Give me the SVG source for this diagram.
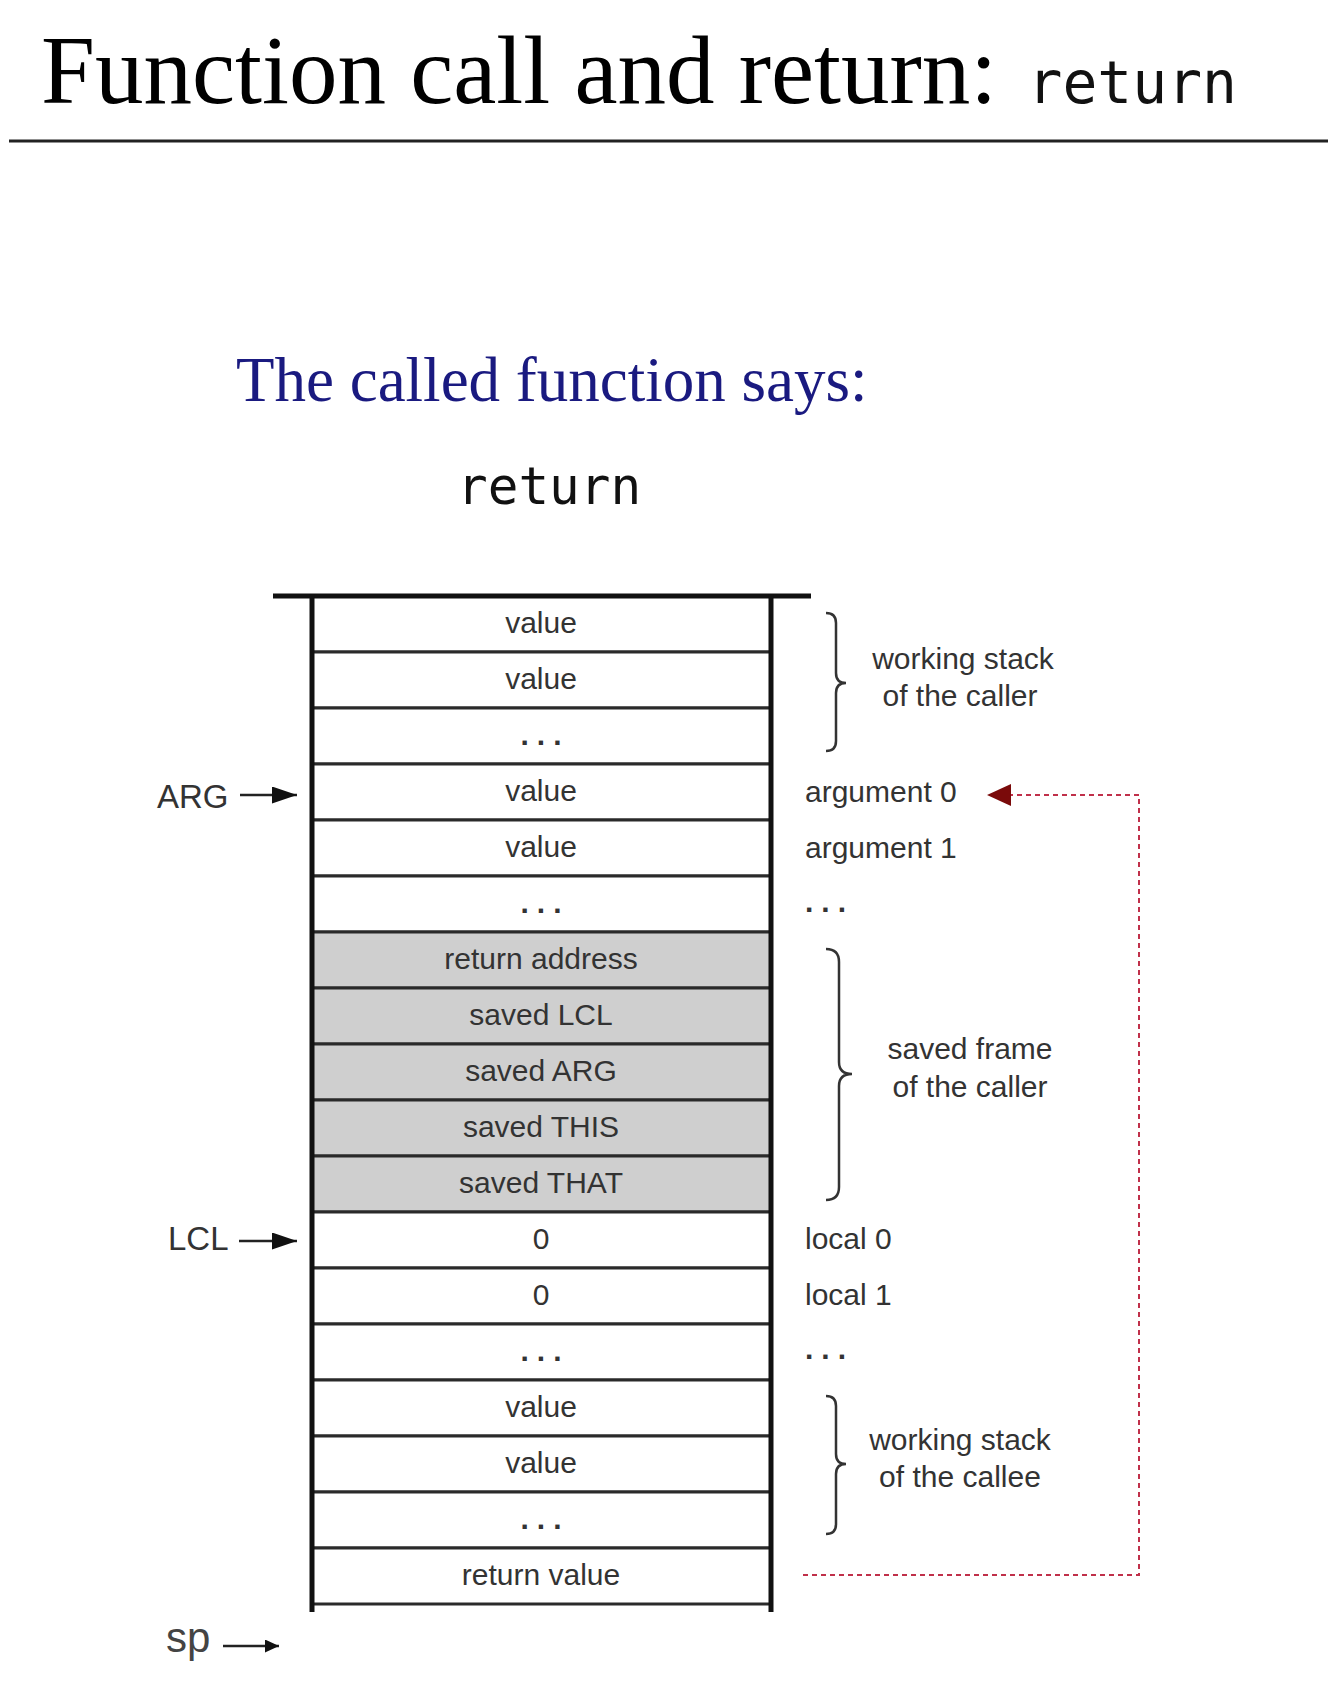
<svg xmlns="http://www.w3.org/2000/svg" width="1328" height="1700" viewBox="0 0 1328 1700">
<style>
.title{font-family:"Liberation Serif","Times New Roman",serif;font-size:97px;fill:#000}
.mono{font-family:"DejaVu Sans Mono","Liberation Mono",monospace;fill:#111}
.sub{font-family:"Liberation Serif","Times New Roman",serif;font-size:63px;fill:#1a1a80}
.cell{fill:#fff;stroke:#2a2a2a;stroke-width:3}
.saved{fill:#cfcfcf;stroke:#2a2a2a;stroke-width:3}
.t{font-family:"Liberation Sans",Arial,sans-serif;font-size:30px;fill:#333}
.dots{font-weight:bold;letter-spacing:8px}
.c{text-anchor:middle}
.wall{stroke:#111;stroke-width:5;fill:none}
.brace{fill:none;stroke:#333;stroke-width:2.5}
.ptr{stroke:#222;stroke-width:2.5;fill:none}
.lbl{font-family:"Liberation Sans",Arial,sans-serif;font-size:33px;fill:#333}
.splbl{font-family:"Liberation Sans",Arial,sans-serif;font-size:42px;fill:#444}
</style>
<defs>
<marker id="ah" viewBox="0 0 10 10" refX="10" refY="5" markerWidth="25" markerHeight="17" orient="auto" markerUnits="userSpaceOnUse" preserveAspectRatio="none">
<path d="M0,0 L10,5 L0,10 z" fill="#111"/>
</marker>
<marker id="sh" viewBox="0 0 10 10" refX="10" refY="5" markerWidth="14" markerHeight="13" orient="auto" markerUnits="userSpaceOnUse" preserveAspectRatio="none">
<path d="M0,0 L10,5 L0,10 z" fill="#111"/>
</marker>
<marker id="rh" viewBox="0 0 10 10" refX="10" refY="5" markerWidth="24" markerHeight="22" orient="auto" markerUnits="userSpaceOnUse" preserveAspectRatio="none">
<path d="M0,0 L10,5 L0,10 z" fill="#7a0a0a"/>
</marker>
</defs>
<g id="title">
<text class="title" x="41" y="103">Function call and return: <tspan class="mono" font-size="58" dx="6">return</tspan></text>
<line x1="9" y1="141" x2="1328" y2="141" stroke="#222" stroke-width="3"/>
</g>
<g id="subtitle">
<text class="sub" x="236" y="401">The called function says:</text>
<text class="mono" x="457" y="504" font-size="51">return</text>
</g>
<g id="stack">
<g id="r1"><rect class="cell" x="312" y="596" width="459" height="56"/><text class="t c" x="541" y="633">value</text></g>
<g id="r2"><rect class="cell" x="312" y="652" width="459" height="56"/><text class="t c" x="541" y="689">value</text></g>
<g id="r3"><rect class="cell" x="312" y="708" width="459" height="56"/><text class="t c dots" x="545" y="745">...</text></g>
<g id="r4"><rect class="cell" x="312" y="764" width="459" height="56"/><text class="t c" x="541" y="801">value</text></g>
<g id="r5"><rect class="cell" x="312" y="820" width="459" height="56"/><text class="t c" x="541" y="857">value</text></g>
<g id="r6"><rect class="cell" x="312" y="876" width="459" height="56"/><text class="t c dots" x="545" y="913">...</text></g>
<g id="r7"><rect class="saved" x="312" y="932" width="459" height="56"/><text class="t c" x="541" y="969">return address</text></g>
<g id="r8"><rect class="saved" x="312" y="988" width="459" height="56"/><text class="t c" x="541" y="1025">saved LCL</text></g>
<g id="r9"><rect class="saved" x="312" y="1044" width="459" height="56"/><text class="t c" x="541" y="1081">saved ARG</text></g>
<g id="r10"><rect class="saved" x="312" y="1100" width="459" height="56"/><text class="t c" x="541" y="1137">saved THIS</text></g>
<g id="r11"><rect class="saved" x="312" y="1156" width="459" height="56"/><text class="t c" x="541" y="1193">saved THAT</text></g>
<g id="r12"><rect class="cell" x="312" y="1212" width="459" height="56"/><text class="t c" x="541" y="1249">0</text></g>
<g id="r13"><rect class="cell" x="312" y="1268" width="459" height="56"/><text class="t c" x="541" y="1305">0</text></g>
<g id="r14"><rect class="cell" x="312" y="1324" width="459" height="56"/><text class="t c dots" x="545" y="1361">...</text></g>
<g id="r15"><rect class="cell" x="312" y="1380" width="459" height="56"/><text class="t c" x="541" y="1417">value</text></g>
<g id="r16"><rect class="cell" x="312" y="1436" width="459" height="56"/><text class="t c" x="541" y="1473">value</text></g>
<g id="r17"><rect class="cell" x="312" y="1492" width="459" height="56"/><text class="t c dots" x="545" y="1529">...</text></g>
<g id="r18"><rect class="cell" x="312" y="1548" width="459" height="56"/><text class="t c" x="541" y="1585">return value</text></g>
<line x1="273" y1="596" x2="811" y2="596" stroke="#111" stroke-width="5"/>
<line class="wall" x1="312" y1="594" x2="312" y2="1612"/>
<line class="wall" x1="771" y1="594" x2="771" y2="1612"/>
</g>
<g id="pointers">
<g id="arg"><text class="lbl" x="157" y="808">ARG</text><line class="ptr" x1="240" y1="795" x2="297" y2="795" marker-end="url(#ah)"/></g>
<g id="lcl"><text class="lbl" x="168" y="1250">LCL</text><line class="ptr" x1="239" y1="1241" x2="297" y2="1241" marker-end="url(#ah)"/></g>
<g id="sp"><text class="splbl" x="166" y="1652">sp</text><line class="ptr" x1="223" y1="1646" x2="279" y2="1646" marker-end="url(#sh)"/></g>
</g>
<g id="labels">
<text class="t" x="805" y="802">argument 0</text>
<text class="t" x="805" y="858">argument 1</text>
<text class="t dots" x="805" y="912">...</text>
<text class="t" x="805" y="1249">local 0</text>
<text class="t" x="805" y="1305">local 1</text>
<text class="t dots" x="805" y="1359">...</text>
</g>
<g id="brace-caller">
<path class="brace" d="M826,613 q10,0 10,10 V673 q0,10 10,10 q-10,0 -10,10 V741 q0,10 -10,10"/>
<text class="t c" x="963" y="669">working stack</text>
<text class="t c" x="960" y="706">of the caller</text>
</g>
<g id="brace-frame">
<path class="brace" d="M826,949 q13,0 13,13 V1062 q0,12 13,12 q-13,0 -13,12 V1187 q0,13 -13,13"/>
<text class="t c" x="970" y="1059">saved frame</text>
<text class="t c" x="970" y="1097">of the caller</text>
</g>
<g id="brace-callee">
<path class="brace" d="M826,1396 q10,0 10,10 V1454 q0,10 10,10 q-10,0 -10,10 V1524 q0,10 -10,10"/>
<text class="t c" x="960" y="1450">working stack</text>
<text class="t c" x="960" y="1487">of the callee</text>
</g>
<g id="connectors">
<path d="M803,1575 H1139 V795 H987" fill="none" stroke="#c0304a" stroke-width="2" stroke-dasharray="5,4" marker-end="url(#rh)"/>
</g>
</svg>
